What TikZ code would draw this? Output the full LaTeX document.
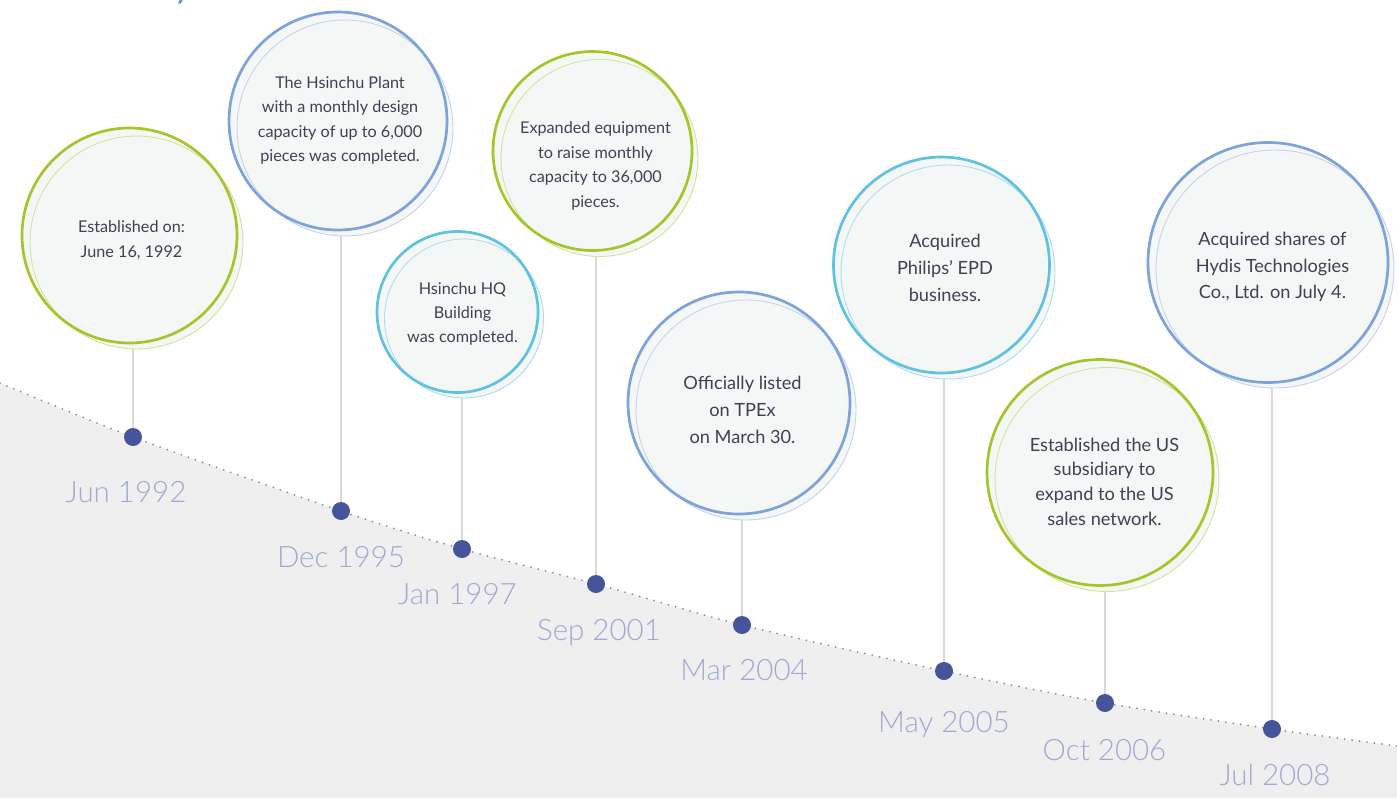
\documentclass[tikz,border=0pt]{standalone}
\usepackage{fontspec}
\setmainfont{Lato}
\newfontfamily\datefont{Lato Light}
\definecolor{lime}{HTML}{A3C62B}
\definecolor{limel}{HTML}{D3E39A}
\definecolor{sky}{HTML}{7EA2DA}
\definecolor{skyl}{HTML}{C3D3EF}
\definecolor{cyanc}{HTML}{5FC2E0}
\definecolor{cyanl}{HTML}{ACDDED}
\definecolor{discfill}{HTML}{F5F7F7}
\definecolor{bodytext}{HTML}{3B4352}
\definecolor{datecol}{HTML}{A0A8D4}
\definecolor{dotcol}{HTML}{46549B}
\definecolor{stemcol}{HTML}{DADADA}
\definecolor{ground}{HTML}{EFEFEF}
\definecolor{trail}{HTML}{8E8E8E}
\definecolor{titleblue}{HTML}{6E94D8}
\begin{document}
\begin{tikzpicture}[x=1pt,y=-1pt,
  disc/.style={circle, inner sep=0pt, outer sep=0pt, fill=discfill, minimum size=#1},
  thinring/.style={draw=#1, line width=0.9pt},
  thickring/.style={draw=#1, line width=2.7pt},
  stemline/.style={draw=stemcol, line width=1.5pt},
  bead/.style={circle, fill=dotcol, inner sep=0pt, minimum size=18pt},
  datelbl/.style={anchor=base, text=datecol, font=\datefont\fontsize{29.5}{30}\selectfont},
  smalltxt/.style={align=center, text=bodytext, font=\fontsize{16.2}{24.4}\selectfont},
  bigtxt/.style={align=center, text=bodytext, font=\fontsize{18.2}{26.7}\selectfont},
]
\useasboundingbox (0,0) rectangle (1397,798);
% ground and dotted trail
\fill[ground] plot[smooth] coordinates {(0,383) (133,437) (341,511) (462,549) (596,584) (742,625) (944,671) (1105,703) (1272,729) (1397,746)} -- (1397,798) -- (0,798) -- cycle;
\draw[trail, line width=2pt, line cap=round, dash pattern=on 0pt off 7.5pt] plot[smooth] coordinates {(0,383) (133,437) (341,511) (462,549) (596,584) (742,625) (944,671) (1105,703) (1272,729) (1397,746)};

% event points on the trail
\coordinate (p1) at (133,437);
\coordinate (p2) at (341,511);
\coordinate (p3) at (462,549);
\coordinate (p4) at (596,584);
\coordinate (p5) at (742,625);
\coordinate (p6) at (944,671);
\coordinate (p7) at (1105,703);
\coordinate (p8) at (1272,729);

% stems from disc bottoms to dots (behind discs)
\coordinate (sb1) at (136.5,349);
\coordinate (sb2) at (345,236);
\coordinate (sb3) at (464,398);
\coordinate (sb4) at (599.5,256);
\coordinate (sb5) at (746,520);
\coordinate (sb6) at (948,379);
\coordinate (sb7) at (1107,591);
\coordinate (sb8) at (1275,388);
\draw[stemline] (p1 |- sb1) -- (p1);
\draw[stemline] (p2 |- sb2) -- (p2);
\draw[stemline] (p3 |- sb3) -- (p3);
\draw[stemline] (p4 |- sb4) -- (p4);
\draw[stemline] (p5 |- sb5) -- (p5);
\draw[stemline] (p6 |- sb6) -- (p6);
\draw[stemline] (p7 |- sb7) -- (p7);
\draw[stemline] (p8 |- sb8) -- (p8);

% discs: shadow disc s_i and main disc c_i
\node[disc=213pt] (s1) at (136.5,242.5) {};
\node[disc=215pt] (c1) at (129.5,235.5) {};
\node[disc=216pt] (s2) at (345,128) {};
\node[disc=218pt] (c2) at (338,121) {};
\node[disc=159pt] (s3) at (464,318.5) {};
\node[disc=161pt] (c3) at (457.5,312) {};
\node[disc=197pt] (s4) at (599.5,158) {};
\node[disc=199pt] (c4) at (592.5,151) {};
\node[disc=220pt] (s5) at (746,410) {};
\node[disc=222pt] (c5) at (739,403) {};
\node[disc=214pt] (s6) at (948,272) {};
\node[disc=216pt] (c6) at (941.5,265) {};
\node[disc=224pt] (s7) at (1107,479.5) {};
\node[disc=226pt] (c7) at (1100,472.5) {};
\node[disc=238pt] (s8) at (1275,269) {};
\node[disc=240pt] (c8) at (1268,262.5) {};

% rings
\draw[thinring=limel] (s1.center) circle[radius=106.5pt];
\draw[thickring=lime] (c1.center) circle[radius=107.5pt];
\draw[thinring=skyl] (s2.center) circle[radius=108pt];
\draw[thickring=sky] (c2.center) circle[radius=109pt];
\draw[thinring=cyanl] (s3.center) circle[radius=79.5pt];
\draw[thickring=cyanc] (c3.center) circle[radius=80.5pt];
\draw[thinring=limel] (s4.center) circle[radius=98.5pt];
\draw[thickring=lime] (c4.center) circle[radius=99.5pt];
\draw[thinring=skyl] (s5.center) circle[radius=110pt];
\draw[thickring=sky] (c5.center) circle[radius=111pt];
\draw[thinring=cyanl] (s6.center) circle[radius=107pt];
\draw[thickring=cyanc] (c6.center) circle[radius=108pt];
\draw[thinring=limel] (s7.center) circle[radius=112pt];
\draw[thickring=lime] (c7.center) circle[radius=113pt];
\draw[thinring=skyl] (s8.center) circle[radius=119pt];
\draw[thickring=sky] (c8.center) circle[radius=120pt];

% texts
\node[smalltxt] (t1) at (131.5,240) {Established on:\\ June 16, 1992};
\node[smalltxt] (t2) at (340,120.5) {The Hsinchu Plant\\with a monthly design\\capacity of up to 6,000\\pieces was completed.};
\node[smalltxt] (t3) at (462.5,314) {Hsinchu HQ\\Building\\was completed.};
\node[smalltxt] (t4) at (595.5,166) {Expanded equipment\\to raise monthly\\capacity to 36,000\\pieces.};
\node[bigtxt] (t5) at (742.5,410) {Officially listed\\on TPEx\\on March 30.};
\node[bigtxt] (t6) at (945,268) {Acquired\\Philips’ EPD\\business.};
\node[bigtxt, font=\fontsize{18.2}{24.6}\selectfont] (t7) at (1104.5,481.5) {Established the US\\subsidiary to\\expand to the US\\sales network.};
\node[bigtxt] (t8) at (1272.5,267) {Acquired shares of\\Hydis Technologies\\Co., Ltd. on July 4.};

% dots
\node[bead] (d1) at (p1) {};
\node[bead] (d2) at (p2) {};
\node[bead] (d3) at (p3) {};
\node[bead] (d4) at (p4) {};
\node[bead] (d5) at (p5) {};
\node[bead] (d6) at (p6) {};
\node[bead] (d7) at (p7) {};
\node[bead] (d8) at (p8) {};

% date labels
\node[datelbl] (y1) at (126,502) {Jun 1992};
\node[datelbl] (y2) at (341,567) {Dec 1995};
\node[datelbl] (y3) at (457.5,604) {Jan 1997};
\node[datelbl] (y4) at (599,640) {Sep 2001};
\node[datelbl] (y5) at (744,680) {Mar 2004};
\node[datelbl] (y6) at (944,732) {May 2005};
\node[datelbl] (y7) at (1104.5,760) {Oct 2006};
\node[datelbl] (y8) at (1275,785) {Jul 2008};

% cut-off title fragment at the top edge
\node[anchor=base, text=titleblue, font=\fontsize{38}{38}\selectfont] (ttl) at (183,-3) {y};
\end{tikzpicture}
\end{document}
